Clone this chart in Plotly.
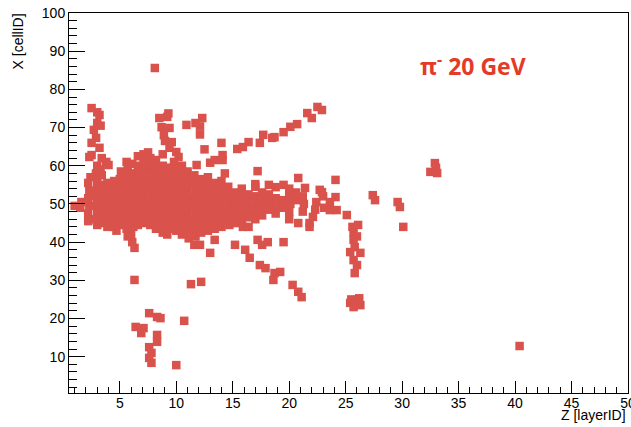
import plotly.graph_objects as go

# Hits as (Z layer, X cell) pairs, grouped by region of the event display
strand_left = [(2.5,75.1),(3.2,73.3),(3.0,74.0),(3.0,71.2),(3.3,70.5),(2.7,69.4),(2.9,67.3),
               (2.5,66.0),(3.2,64.7),(2.5,62.8),(2.3,62.3),(3.4,62.0),(3.8,61.0),(4.0,60.2),
               (3.3,59.0),(2.9,57.8)]
strand_mid = [(8.5,72.5),(9.2,72.8),(9.3,73.7),(8.7,70.1),(9.4,69.9),(8.9,68.0),(9.6,66.2),
              (9.0,66.5),(9.4,64.7),(10.0,63.6),(10.2,62.3),(8.8,63.0),(9.8,61.0)]
upper_track = [(8.1,85.6),(10.9,70.7),(11.7,71.2),(12.3,72.5),(12.1,70.3),(12.1,68.2),(12.5,64.3),
               (11.8,60.2),(13.0,60.8),(14.0,66.0),(14.1,62.8),(14.1,61.5),(15.4,64.4),(15.9,64.9),
               (16.4,66.2),(17.4,66.0),(17.7,68.1),(18.5,67.3),(18.7,67.5),(19.5,68.8),(20.1,70.2),
               (20.7,70.9),(21.6,73.8),(22.0,72.5),(22.5,75.4),(22.9,74.6),(17.2,58.6),(17.0,55.2),
               (14.3,58.0),(13.4,61.5)]
band_a = [(1.0,49.5),(1.5,49.0),(1.6,50.5),
          (2.2,45.5),(2.2,47.5),(2.3,49.5),(2.2,51.5),(2.3,53.5),(2.2,55.5),(2.4,57.0),
          (3.0,60.0),(2.9,58.0),(3.0,56.0),(3.0,54.0),(2.9,52.0),(3.0,50.0),(3.0,48.0),(2.9,46.0),(3.0,44.5),
          (3.4,57.5),(3.5,55.0),(3.4,53.0),(3.5,51.0),(3.4,49.0),(3.5,47.0),(3.4,45.0),
          (3.9,55.5),(4.0,53.5),(3.9,51.5),(4.0,49.5),(3.9,47.5),(4.0,46.0),(3.9,44.0),
          (4.5,56.0),(4.5,54.0),(4.6,52.0),(4.5,50.0),(4.4,48.0),(4.5,46.0),(4.5,44.0),(4.7,43.0),
          (5.1,58.5),(5.0,56.5),(5.1,54.5),(5.0,52.5),(5.1,50.5),(5.0,48.5),(5.1,46.5),(5.0,44.5),
          (5.6,61.0),(5.7,59.5),(5.6,57.5),(5.6,55.5),(5.7,53.5),(5.6,51.5),(5.6,49.5),(5.7,47.5),
          (5.6,45.5),(5.6,43.5),(5.7,41.5)]
band_b = [(6.1,60.5),(6.1,58.0),(6.2,56.0),(6.1,54.0),(6.1,52.0),(6.2,50.0),(6.1,48.0),(6.1,46.0),
          (6.2,44.0),(6.0,42.0),(6.1,40.0),(6.3,38.5),
          (6.6,62.5),(6.6,60.0),(6.7,58.5),(6.6,56.5),(6.6,54.5),(6.7,52.5),(6.6,50.5),(6.6,48.5),(6.7,46.5),(6.6,44.5),
          (7.1,63.0),(7.1,61.0),(7.2,59.0),(7.1,57.0),(7.1,55.0),(7.2,53.0),(7.1,51.0),(7.1,49.0),(7.2,47.0),(7.1,45.0),(7.5,63.5),
          (7.7,62.0),(7.7,60.0),(7.8,58.0),(7.7,56.0),(7.7,54.0),(7.8,52.0),(7.7,50.0),(7.7,48.0),(7.8,46.0),(7.7,44.5),
          (8.2,61.5),(8.2,59.5),(8.3,57.5),(8.2,55.5),(8.2,53.5),(8.3,51.5),(8.2,49.5),(8.2,47.5),(8.3,45.5),(8.2,43.5),
          (8.8,60.0),(8.8,58.0),(8.9,56.0),(8.8,54.0),(8.8,52.0),(8.9,50.0),(8.8,48.0),(8.8,46.0),(8.9,44.0),(8.8,42.5),
          (9.3,59.5),(9.4,57.5),(9.3,55.5),(9.3,53.5),(9.4,51.5),(9.3,49.5),(9.3,47.5),(9.4,45.5),(9.3,43.5),(9.2,42.0),
          (9.9,59.0),(9.9,57.0),(10.0,55.0),(9.9,53.0),(9.9,51.0),(10.0,49.0),(9.9,47.0),(9.9,45.0),(10.0,43.0),
          (10.5,60.0),(10.5,58.0),(10.6,56.0),(10.5,54.0),(10.5,52.0),(10.6,50.0),(10.5,48.0),(10.5,46.0),(10.6,44.0),(10.5,42.0),
          (11.0,58.5),(11.1,56.5),(11.0,54.5),(11.0,52.5),(11.1,50.5),(11.0,48.5),(11.0,46.5),(11.1,44.5),(11.0,42.5),(11.1,41.0),
          (11.6,57.5),(11.6,55.5),(11.7,53.5),(11.6,51.5),(11.6,49.5),(11.7,47.5),(11.6,45.5),(11.6,43.5),(11.7,41.5),(11.6,39.3)]
band_c = [(12.2,56.5),(12.2,54.5),(12.3,52.5),(12.2,50.5),(12.2,48.5),(12.3,46.5),(12.2,44.5),(12.2,42.5),(12.1,39.3),
          (12.8,57.0),(12.8,55.0),(12.9,53.0),(12.8,51.0),(12.8,49.0),(12.9,47.0),(12.8,45.0),(12.8,43.0),(13.0,37.2),
          (13.4,55.5),(13.4,53.5),(13.5,51.5),(13.4,49.5),(13.4,47.5),(13.5,45.5),(13.4,43.5),(13.4,40.6),
          (14.0,56.0),(14.0,54.0),(14.1,52.0),(14.0,50.0),(14.0,48.0),(14.1,46.0),(14.0,44.0),
          (14.6,54.5),(14.6,52.5),(14.7,50.5),(14.6,48.5),(14.6,46.5),(14.7,44.5),
          (15.2,53.0),(15.2,51.0),(15.3,49.0),(15.2,47.0),(15.2,45.0),(15.2,39.3),
          (15.8,54.0),(15.8,52.0),(15.9,50.0),(15.8,48.0),(15.8,46.0),(15.9,44.0),
          (16.4,52.5),(16.4,50.5),(16.5,48.5),(16.4,46.5),(16.4,44.0),(16.1,38.0),(16.5,35.9),
          (17.0,54.5),(17.0,52.0),(17.1,50.0),(17.0,48.0),(17.0,46.0),
          (17.6,53.0),(17.6,51.0),(17.7,49.0),(17.6,47.0)]
band_d = [(18.2,55.0),(18.2,52.5),(18.3,50.5),(18.2,48.5),
          (18.8,54.4),(18.8,51.5),(18.9,49.5),(18.8,47.5),
          (19.5,55.0),(19.4,51.0),(19.5,49.0),
          (20.0,54.0),(20.0,52.0),(20.1,50.0),(20.0,48.0),(20.0,46.0),
          (20.8,56.8),(20.6,53.0),(20.7,51.0),(20.8,45.0),
          (21.4,54.2),(21.2,52.0),(21.3,50.0),(21.2,48.0),(21.8,45.0),(21.8,44.0),
          (22.1,46.6),(22.4,50.5),(22.3,48.5),(22.7,53.7),(22.9,53.1),
          (23.0,52.0),(23.1,49.0),(23.6,48.4),(23.6,50.5),
          (24.1,56.3),(24.1,51.8),(24.2,48.4),(25.1,47.1)]
lower_left = [(6.3,30.1),(7.6,21.4),(8.3,20.4),(8.6,20.1),(10.7,19.4),(6.4,17.8),(7.1,17.5),(6.9,16.2),
              (8.3,15.7),(8.3,13.9),(7.6,12.5),(7.8,11.0),(7.6,9.7),(7.8,8.4),(10.0,7.8),(11.3,29.0),(12.2,29.6)]
lower_track = [(17.2,40.6),(17.6,39.3),(18.1,40.0),(19.5,40.0),(17.4,34.0),(17.9,33.2),(18.7,31.9),
               (18.6,30.1),(19.2,32.2),(20.3,28.8),(20.8,27.0),(21.1,25.6)]
strand_26 = [(25.6,44.0),(26.1,44.5),(25.7,42.5),(26.0,41.5),(25.7,40.6),(25.8,38.7),(25.4,37.4),(26.3,37.2),
             (25.7,35.3),(26.0,34.0),(25.8,31.9),(26.0,24.9),(25.4,24.1),(26.3,23.5),(25.7,23.0),(26.2,25.3),(25.5,25.0)]
right_points = [(27.4,52.3),(27.6,51.0),(29.6,50.5),(29.8,49.2),(30.1,44.0),(32.9,60.7),(32.5,58.4),
                (33.1,58.1),(33.0,59.5),(40.4,12.8)]

groups = [strand_left, strand_mid, upper_track, band_a, band_b, band_c, band_d,
          lower_left, lower_track, strand_26, right_points]
z_vals = [p[0] for g in groups for p in g]
x_vals = [p[1] for g in groups for p in g]

x_ticks = [5, 10, 15, 20, 25, 30, 35, 40, 45, 50]
y_ticks = [10, 20, 30, 40, 50, 60, 70, 80, 90, 100]

fig = go.Figure(go.Scatter(
    x=z_vals, y=x_vals, mode="markers",
    marker=dict(symbol="square", size=8.5, color="rgb(218,82,76)", line=dict(width=0)),
    hoverinfo="skip"))

font_main = "Liberation Sans, Arial, sans-serif"
fig.update_layout(
    width=631, height=427,
    margin=dict(l=69, r=3, t=13, b=34, autoexpand=False),
    paper_bgcolor="white", plot_bgcolor="white",
    showlegend=False,
    font=dict(family=font_main, size=14, color="black"),
    xaxis=dict(range=[0.5, 50], tickvals=x_ticks, ticks="inside", ticklen=12, tickcolor="black",
               showline=True, linecolor="black", linewidth=1, mirror=True, showgrid=False, zeroline=False,
               ticklabeloverflow="allow", automargin=False, ticklabelstandoff=-3,
               tickfont=dict(size=14), minor=dict(dtick=1, tick0=0, ticks="inside", ticklen=6, tickcolor="black", showgrid=False)),
    yaxis=dict(range=[0.5, 100], tickvals=y_ticks, ticks="inside", ticklen=16, tickcolor="black",
               showline=True, linecolor="black", linewidth=1, mirror=True, showgrid=False, zeroline=False,
               ticklabeloverflow="allow", automargin=False,
               tickfont=dict(size=14), minor=dict(dtick=2, tick0=0, ticks="inside", ticklen=8, tickcolor="black", showgrid=False)),
    annotations=[
        dict(text="X [cellID]", xref="paper", yref="paper", x=-0.092, y=1.003, xanchor="center", yanchor="top",
             textangle=-90, showarrow=False, font=dict(size=14, color="black", family=font_main)),
        dict(text="Z [layerID]", xref="paper", yref="paper", x=1.0, y=-0.058, xanchor="right", yanchor="middle",
             showarrow=False, font=dict(size=14, color="black", family=font_main)),
        dict(text="<b>π<sup>-</sup> 20 GeV</b>", xref="x", yref="y", x=31.4, y=86.5, xanchor="left", yanchor="middle",
             showarrow=False, font=dict(size=23, color="rgb(228,58,40)", family="Open Sans, sans-serif")),
    ],
)

# remove the default 8px page margin so the figure sits at the window's top-left corner
fig.write_html("out.html", config={"displayModeBar": False},
               post_script="document.body.style.margin='0';document.body.style.overflow='hidden';")
